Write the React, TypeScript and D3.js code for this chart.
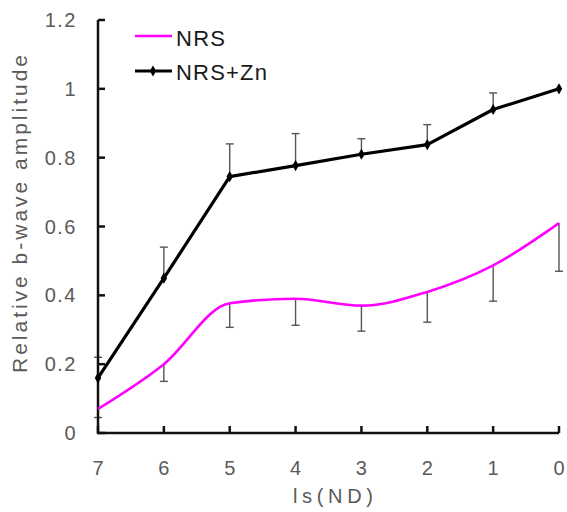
import React, { useRef, useEffect } from "react";
import * as d3 from "d3";

const levels = [7, 6, 5, 4, 3, 2, 1, 0];
const nrs = [0.07, 0.2, 0.377, 0.39, 0.37, 0.41, 0.487, 0.61];
const nrsErr = [0.025, 0.05, 0.07, 0.077, 0.074, 0.088, 0.104, 0.14];
const nrsZn = [0.16, 0.45, 0.745, 0.777, 0.81, 0.838, 0.94, 1.0];
const nrsZnErr = [0.06, 0.09, 0.095, 0.093, 0.045, 0.058, 0.048, 0];
const yTicks = [0, 0.2, 0.4, 0.6, 0.8, 1, 1.2];

const W = 567;
const H = 512;

export default function App() {
  const svgRef = useRef<SVGSVGElement>(null);

  useEffect(() => {
    const svg = d3.select(svgRef.current);
    svg.selectAll("*").remove();

    const x = d3.scaleLinear().domain([7, 0]).range([98, 559]);
    const y = d3.scaleLinear().domain([0, 1.2]).range([433, 20]);
    const font = "Arial, 'Liberation Sans', sans-serif";
    const grey = "#5a5a5a";

    // error bars first, under the lines
    const eb = svg.append("g").attr("stroke", "#555").attr("stroke-width", 1.4);
    levels.forEach((l, i) => {
      if (nrsZnErr[i] > 0) {
        const top = y(nrsZn[i] + nrsZnErr[i]);
        eb.append("line").attr("x1", x(l)).attr("x2", x(l)).attr("y1", y(nrsZn[i])).attr("y2", top);
        eb.append("line").attr("x1", x(l) - 4).attr("x2", x(l) + 4).attr("y1", top).attr("y2", top);
      }
      const bot = y(nrs[i] - nrsErr[i]);
      eb.append("line").attr("x1", x(l)).attr("x2", x(l)).attr("y1", y(nrs[i])).attr("y2", bot);
      eb.append("line").attr("x1", x(l) - 4).attr("x2", x(l) + 4).attr("y1", bot).attr("y2", bot);
    });

    // axes
    const ax = svg.append("g").attr("stroke", "#111").attr("stroke-width", 2.5).attr("fill", "none");
    ax.append("line").attr("x1", x(7)).attr("x2", x(7)).attr("y1", y(1.2)).attr("y2", y(0) + 1);
    ax.append("line").attr("x1", x(7) - 1).attr("x2", x(0)).attr("y1", y(0)).attr("y2", y(0));
    yTicks.forEach(t => {
      ax.append("line").attr("x1", x(7)).attr("x2", x(7) + 7).attr("y1", y(t)).attr("y2", y(t));
    });
    levels.forEach(l => {
      ax.append("line").attr("x1", x(l)).attr("x2", x(l)).attr("y1", y(0)).attr("y2", y(0) - 7);
    });

    const lab = svg.append("g").attr("fill", grey).style("font-family", font).style("font-size", "20px");
    yTicks.forEach(t => {
      lab.append("text").attr("x", 77).attr("y", y(t) + 7).attr("text-anchor", "end")
        .style("letter-spacing", "1.5px").text(d3.format("")(t));
    });
    levels.forEach(l => {
      lab.append("text").attr("x", x(l)).attr("y", 475).attr("text-anchor", "middle").text(l);
    });
    lab.append("text").attr("x", 293).attr("y", 503)
      .attr("textLength", 80).attr("lengthAdjust", "spacing").text("ls(ND)");
    lab.append("text")
      .attr("transform", "translate(27,373) rotate(-90)")
      .style("font-size", "21px")
      .attr("textLength", 318).attr("lengthAdjust", "spacing")
      .text("Relative b-wave amplitude");

    // series
    const nrsLine = d3.line<number>().x((d, i) => x(levels[i])).y(d => y(d)).curve(d3.curveMonotoneX);
    svg.append("path").attr("d", nrsLine(nrs)).attr("fill", "none").attr("stroke", "#ff00ff").attr("stroke-width", 2.6);

    const znLine = d3.line<number>().x((d, i) => x(levels[i])).y(d => y(d));
    svg.append("path").attr("d", znLine(nrsZn)).attr("fill", "none").attr("stroke", "#000")
      .attr("stroke-width", 3.2).attr("stroke-linejoin", "round");
    const diamond = d3.symbol().type(d3.symbolDiamond).size(36);
    nrsZn.forEach((v, i) => {
      svg.append("path").attr("d", diamond()).attr("transform", `translate(${x(levels[i])},${y(v)})`).attr("fill", "#000");
    });

    // legend
    const lg = svg.append("g").style("font-family", font).style("font-size", "22px").attr("fill", "#1a1a1a");
    lg.append("line").attr("x1", 135).attr("x2", 172).attr("y1", 36).attr("y2", 36)
      .attr("stroke", "#ff00ff").attr("stroke-width", 2.6);
    lg.append("text").attr("x", 176).attr("y", 46).attr("textLength", 49).attr("lengthAdjust", "spacing").text("NRS");
    lg.append("line").attr("x1", 135).attr("x2", 172).attr("y1", 71).attr("y2", 71)
      .attr("stroke", "#000").attr("stroke-width", 3);
    lg.append("path").attr("d", diamond()).attr("transform", "translate(153,71)").attr("fill", "#000");
    lg.append("text").attr("x", 176).attr("y", 80).attr("textLength", 91).attr("lengthAdjust", "spacing").text("NRS+Zn");
  }, []);

  return (
    <svg ref={svgRef} width={W} height={H}
      style={{ position: "absolute", left: 0, top: 0, background: "#fff" }} />
  );
}
